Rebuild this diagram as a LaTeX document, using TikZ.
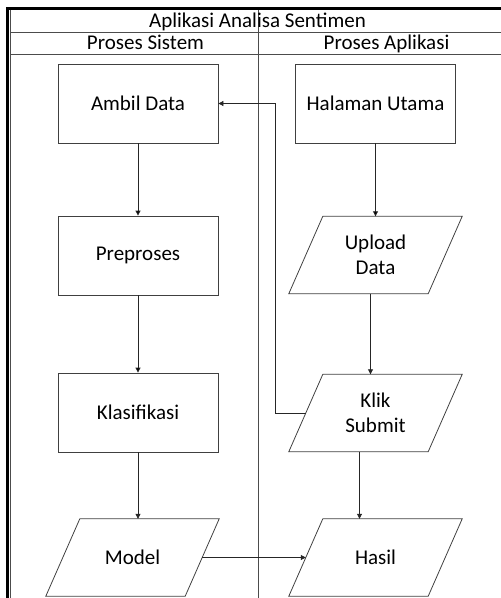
\documentclass[tikz,border=0pt]{standalone}
\usepackage{fontspec}
\setmainfont{Carlito}
\usepackage{tikz}
\usetikzlibrary{calc, positioning, shapes, arrows.meta}
\def\kirix{138}
\def\kananx{375.5}
\def\miring{17}
\tikzstyle{proses}=[rectangle, draw=black!75, line width=0.8pt, minimum width=160bp, minimum height=79bp, inner sep=0pt]
\tikzstyle{data}=[rectangle, minimum width=139bp, minimum height=77bp, inner sep=0pt, align=center]
\tikzstyle{garis}=[draw=black!75, line width=0.8pt]
\tikzstyle{lane}=[draw=black!70, line width=0.8pt]
\tikzstyle{alur}=[-{Triangle[length=5bp,width=5bp]}, draw=black!85, line width=0.8pt]

\begin{document}
\begin{tikzpicture}[x=1bp, y=-1bp, font=\fontsize{21bp}{25bp}\selectfont]
		\useasboundingbox (0,0) rectangle (501,598);
		% Draw the pool frame and the lanes
		\draw[line width=3bp] (7.5,598) -- (7.5,9) -- (501,9);
		\draw[lane] (10.5,598) -- (10.5,10.5);
		\draw[lane] (10.5,32) -- (501,32);
		\draw[lane] (10.5,54) -- (501,54);
		\draw[lane] (258.5,10.5) -- (258.5,598);
		\node[anchor=base] (judul) at (257.5,28) {Aplikasi Analisa Sentimen};
		\node[anchor=base] (sistem) at (145.5,50) {Proses Sistem};
		\node[anchor=base] (aplikasi) at (386.5,50) {Proses Aplikasi};

		% Draw the system lane
		\foreach \name / \y / \teks in {ambil/103.5/Ambil Data, prep/255.5/Preproses, klas/412.5/Klasifikasi}
		\node[proses] (\name) at (\kirix, \y) {\teks};
		\node[data] (model) at (132.5, 557.5) {Model};

		% Draw the application lane
		\node[proses] (halaman) at (\kananx, 103.5) {Halaman Utama};
		\node[data] (upload) at (\kananx, 255) {Upload\\Data};
		\node[data] (klik) at (\kananx, 413) {Klik\\Submit};
		\node[data] (hasil) at (\kananx, 557.5) {Hasil};

		% Slant the data nodes
		\foreach \name in {model, upload, klik, hasil}
		\draw[garis] ($(\name.north west)+(\miring,0)$) -- ($(\name.north east)+(\miring,0)$)
			-- ($(\name.south east)-(\miring,0)$) -- ($(\name.south west)-(\miring,0)$) -- cycle;

		% Connect the steps
		\path[alur] (ambil) edge (prep);
		\path[alur] (prep) edge (klas);
		\draw[alur] (klas) -- (klas |- model.north);
		\path[alur] (halaman) edge (upload);
		\draw[alur] ([xshift=-5bp]upload.south) -- ([xshift=-5bp]klik.north);
		\draw[alur] ([xshift=-16bp]klik.south) -- ([xshift=-16bp]hasil.north);
		\draw[alur] (klik.west) -- ++(-30,0) |- (ambil.east);
		\draw[alur] (model.east) -- (hasil.west);
	\end{tikzpicture}
\end{document}
